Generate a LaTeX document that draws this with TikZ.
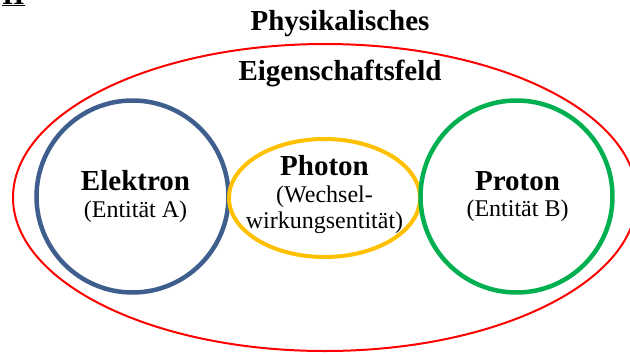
\documentclass[tikz,border=0pt]{standalone}
\usepackage{fontspec}
\setmainfont{Liberation Serif}
\usetikzlibrary{shapes.geometric}
\usetikzlibrary{positioning}
\definecolor{feldred}{RGB}{255, 0, 0}
\definecolor{elektronblue}{RGB}{62, 94, 142}
\definecolor{photonyellow}{RGB}{255, 192, 0}
\definecolor{protongreen}{RGB}{0, 176, 80}
\newlength{\circlesize}
\setlength{\circlesize}{192pt}
\newlength{\titledist}
\setlength{\titledist}{50pt}
\newcommand{\bigbold}{\bfseries\fontsize{29}{27}\selectfont}
\newcommand{\smallreg}{\fontsize{24}{26.5}\selectfont}

\begin{document}
\begin{tikzpicture}[x=1pt, y=-1pt]
\useasboundingbox (0,0) rectangle (630,354);

\node[anchor=base west, inner sep=0, font=\bigbold](teil) at (2,4){\underline{II}};

\node[ellipse, draw=feldred, line width=2pt, minimum width=624pt, minimum height=307pt, inner sep=0](feld) at (325,197.5){};
\node[anchor=base, inner sep=0, font=\bigbold](physik) at (340,30){Physikalisches};
\node[anchor=base, inner sep=0, font=\bigbold](eigenschaft) at ([yshift=-\titledist]physik.base){Eigenschaftsfeld};

\node[circle, draw=elektronblue, line width=4.5pt, minimum size=\circlesize, inner sep=0](elektron) at (132.5,196.5){};
\node[ellipse, draw=photonyellow, line width=4pt, minimum width=191pt, minimum height=118pt, inner sep=0](photon) at (324.5,198){};
\node[circle, draw=protongreen, line width=4.5pt, minimum size=\circlesize, inner sep=0](proton) at (516.5,196.5){};

\node[align=center, inner sep=0, font=\smallreg](elektrontext) at ([xshift=3pt]elektron.center){{\bigbold Elektron}\\(Entität A)};
\node[align=center, inner sep=0, font=\smallreg](photontext) at ([yshift=3pt]photon.center){{\bigbold Photon}\\(Wechsel-\\wirkungsentität)};
\node[align=center, inner sep=0, font=\smallreg](protontext) at ([xshift=1pt]proton.center){{\bigbold Proton}\\(Entität B)};

\end{tikzpicture}
\end{document}
